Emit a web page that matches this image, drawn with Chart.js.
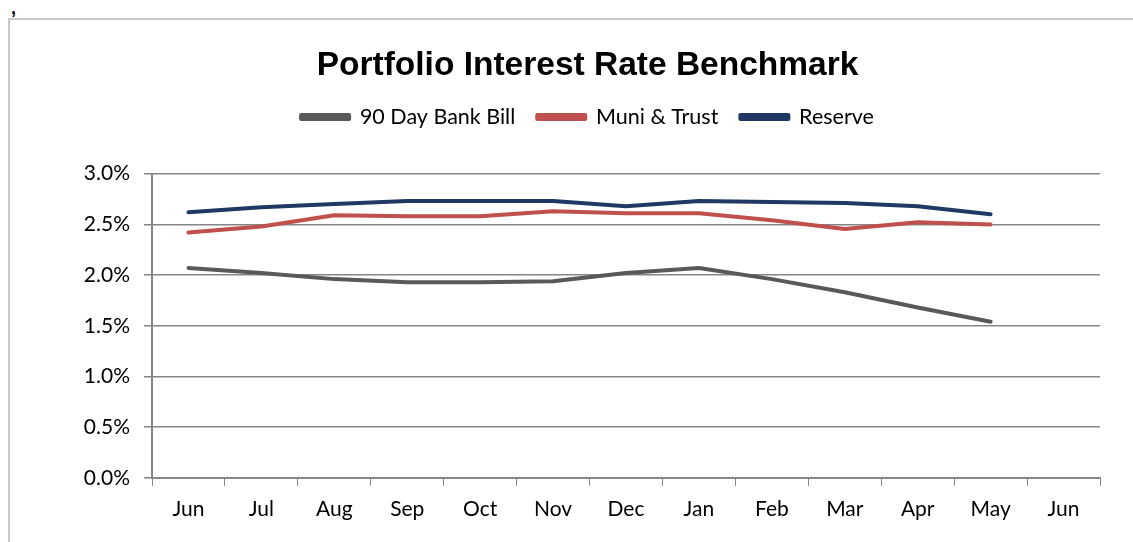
<!DOCTYPE html>
<html>
<head>
<meta charset="utf-8">
<script src="https://cdn.jsdelivr.net/npm/chart.js@4"></script>
<style>
  body { margin: 0; background: #fff; }
  #wrap { position: relative; width: 1133px; height: 542px; overflow: hidden; }
  #frame { position: absolute; left: 8px; top: 18px; width: 1200px; height: 600px;
           border-top: 2px solid #c8c8c8; border-left: 2px solid #c8c8c8; }
  #comma { position: absolute; left: 11px; top: -2px; font: bold 18px "Liberation Sans", Arial, sans-serif; }
  canvas { position: absolute; left: 0; top: 0; }
</style>
</head>
<body>
<div id="wrap">
  <div id="comma">,</div>
  <div id="frame"></div>
  <canvas id="chart" width="1133" height="542"></canvas>
</div>
<script>
// months on the x axis (last Jun has no data)
const months = ['Jun', 'Jul', 'Aug', 'Sep', 'Oct', 'Nov', 'Dec', 'Jan', 'Feb', 'Mar', 'Apr', 'May', 'Jun'];

// rates in percent
const bankBill = [2.07, 2.02, 1.96, 1.93, 1.93, 1.94, 2.02, 2.07, 1.96, 1.83, 1.68, 1.54];
const muniTrust = [2.42, 2.48, 2.59, 2.58, 2.58, 2.63, 2.61, 2.61, 2.54, 2.455, 2.52, 2.50];
const reserve = [2.62, 2.67, 2.70, 2.73, 2.73, 2.73, 2.68, 2.73, 2.72, 2.71, 2.68, 2.60];

const tickFont = { family: 'Lato, "Open Sans", sans-serif', size: 21 };
const axisGray = '#868686';

// extra room between the legend and the plot
const legendMargin = {
  id: 'legendMargin',
  beforeInit(chart) {
    const fit = chart.legend.fit;
    chart.legend.fit = function () {
      fit.bind(chart.legend)();
      this.height += 36;
    };
  },
};

const ctx = document.getElementById('chart').getContext('2d');

new Chart(ctx, {
  type: 'line',
  data: {
    labels: months,
    datasets: [
      { label: '90 Day Bank Bill', data: bankBill, borderColor: '#595959', backgroundColor: '#595959' },
      { label: 'Muni & Trust', data: muniTrust, borderColor: '#C0504D', backgroundColor: '#C0504D' },
      { label: 'Reserve', data: reserve, borderColor: '#1F3864', backgroundColor: '#1F3864' },
    ],
  },
  plugins: [legendMargin],
  options: {
    responsive: false,
    animation: false,
    layout: { padding: { left: 75, right: 33, top: 46, bottom: 9 } },
    elements: {
      line: { borderWidth: 4, tension: 0, borderCapStyle: 'round', borderJoinStyle: 'round' },
      point: { radius: 0, hoverRadius: 0 },
    },
    plugins: {
      title: {
        display: true,
        text: 'Portfolio Interest Rate Benchmark',
        color: '#000',
        font: { family: '"Liberation Sans", Arial, sans-serif', size: 33.5, weight: 'bold' },
        padding: { top: 0, bottom: -2 },
      },
      legend: {
        position: 'top',
        labels: {
          color: '#000',
          font: { family: 'Lato, "Open Sans", sans-serif', size: 21.5 },
          boxWidth: 48,
          boxHeight: 4,
          padding: 22,
        },
      },
      tooltip: { enabled: false },
    },
    scales: {
      x: {
        offset: true,
        grid: { offset: true, drawOnChartArea: false, color: axisGray, tickLength: 8 },
        border: { color: axisGray, width: 2 },
        ticks: { color: '#000', font: tickFont, padding: 11, maxRotation: 0, autoSkip: false },
      },
      y: {
        min: 0,
        max: 3,
        afterFit(scale) { scale.width = 77; },
        grid: { color: axisGray, lineWidth: 1.5, tickLength: 8 },
        border: { color: axisGray, width: 2 },
        ticks: {
          stepSize: 0.5,
          color: '#000',
          font: tickFont,
          padding: 14,
          callback: (value) => value.toFixed(1) + '%',
        },
      },
    },
  },
});
</script>
</body>
</html>
